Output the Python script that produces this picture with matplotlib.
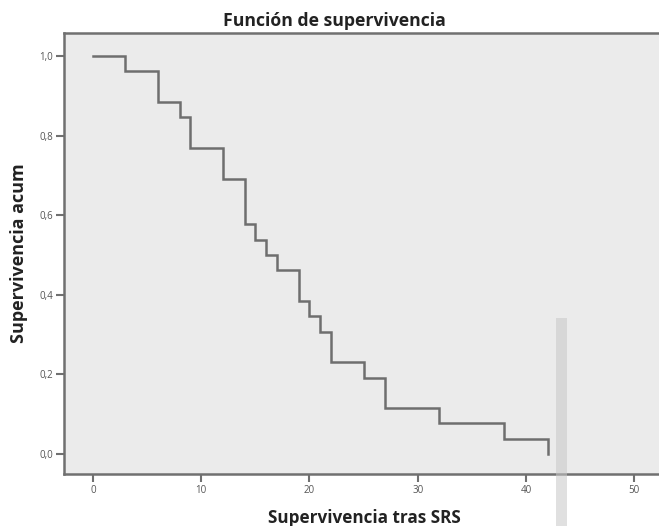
import matplotlib
matplotlib.use("Agg")
import matplotlib.pyplot as plt
from matplotlib.patches import Rectangle
from matplotlib.ticker import FuncFormatter

# Kaplan-Meier steps
tiempo = [0, 3, 6, 8, 9, 12, 14, 15, 16, 17, 19, 20, 21, 22, 25, 27, 32, 38, 42]
supervivencia = [1.0, 0.962, 0.885, 0.846, 0.769, 0.692, 0.577, 0.538, 0.500,
                 0.462, 0.385, 0.346, 0.308, 0.231, 0.192, 0.115, 0.077, 0.038, 0.0]

x_ticks = [0, 10, 20, 30, 40, 50]
y_ticks = [0.0, 0.2, 0.4, 0.6, 0.8, 1.0]

plt.rcParams['font.family'] = ['Open Sans', 'DejaVu Sans']

W, H = 659, 526
fig = plt.figure(figsize=(W / 100, H / 100), dpi=100)
fig.patch.set_facecolor('white')

ax = fig.add_axes([64 / W, 1 - 474 / H, 600 / W, 441 / H])
ax.set_facecolor('#ebebeb')

ax.step(tiempo, supervivencia, where='post', color='#6e6e6e', lw=1.8,
        solid_joinstyle='miter')

ax.set_xlim(-2.68, 52.75)
ax.set_ylim(-0.050, 1.058)
ax.set_xticks(x_ticks)
ax.set_yticks(y_ticks)
ax.yaxis.set_major_formatter(FuncFormatter(lambda v, p: f"{v:.1f}".replace('.', ',')))

for s in ['left', 'top', 'bottom']:
    ax.spines[s].set_color('#707070')
    ax.spines[s].set_linewidth(1.8)
ax.spines['right'].set_visible(False)

ax.tick_params(axis='both', direction='out', length=6, width=1.5, color='#707070',
               labelsize=7, labelcolor='#555555', pad=2)

# title sits over the centre of the whole image, not the axes
ax.set_title('Función de supervivencia', fontsize=12.7, fontweight='bold',
             color='#222222', pad=5, x=(334.5 - 64) / 600)
ax.set_xlabel('Supervivencia tras SRS', fontsize=12.3, fontweight='bold',
              color='#222222', labelpad=9)
ax.set_ylabel('Supervivencia acum', fontsize=13, fontweight='bold',
              color='#222222', labelpad=8)

# faint vertical smudge present in the scanned original
fig.patches.append(Rectangle((556 / W, 0), 11 / W, 208 / H, transform=fig.transFigure,
                             facecolor='#c8c8c8', alpha=0.55, edgecolor='none',
                             zorder=5))

fig.savefig('out.png', dpi=100)
